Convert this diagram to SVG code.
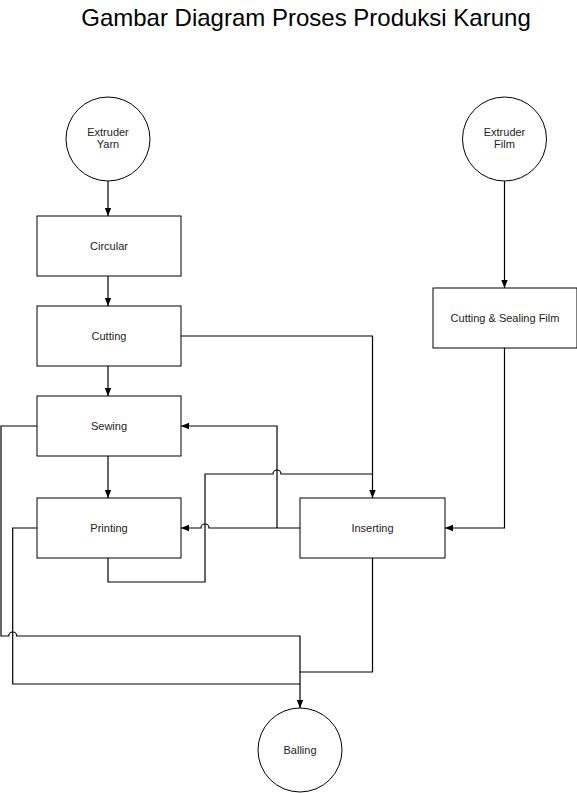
<svg xmlns="http://www.w3.org/2000/svg" width="577" height="793" viewBox="0 0 577 793">
<defs>
<marker id="ah" viewBox="0 0 10 10" refX="10" refY="5" markerWidth="8" markerHeight="8" markerUnits="userSpaceOnUse" orient="auto">
<path d="M0,1 L10,5 L0,9 z" fill="#000"/>
</marker>
<style>
.n{fill:#fff;stroke:#000;stroke-width:1}
.t{font-family:"Liberation Sans",Arial,sans-serif;font-size:11px;fill:#222;text-anchor:middle}
.c{fill:none;stroke:#000;stroke-width:1.2}
.a{marker-end:url(#ah)}
.title{font-family:"Liberation Sans",Arial,sans-serif;font-size:24px;fill:#000;text-anchor:middle}
</style>
</defs>
<rect width="577" height="793" fill="#fff"/>
<text class="title" x="306" y="26">Gambar Diagram Proses Produksi Karung</text>
<g id="connectors">
<path class="c a" d="M108 181 V216"/>
<path class="c a" d="M108 276 V306"/>
<path class="c a" d="M108 366 V396"/>
<path class="c a" d="M108 456 V498"/>
<path class="c a" d="M504.5 181 V288"/>
<path class="c a" d="M504.5 348 V528 H445"/>
<path class="c a" d="M181 336 H372.5 V498"/>
<path class="c a" d="M300 528 H209 A4 4 0 0 0 201 528 H181"/>
<path class="c a" d="M277 528 V426 H181"/>
<path class="c" d="M108 558 V582 H205 V474 H273 A4 4 0 0 1 281 474 H372.5"/>
<path class="c a" d="M37 426 H1 V636 H8.7 A4 4 0 0 1 16.7 636 H300 V708"/>
<path class="c" d="M37 528 H12.7 V684 H300"/>
<path class="c" d="M372.5 558 V672 H300"/>
</g>
<g id="extruder-yarn">
<circle class="n" cx="108" cy="139" r="42"/>
<text class="t" x="108" y="135.5">Extruder</text>
<text class="t" x="108" y="147.5">Yarn</text>
</g>
<g id="extruder-film">
<circle class="n" cx="504.5" cy="139" r="42"/>
<text class="t" x="504.5" y="135.5">Extruder</text>
<text class="t" x="504.5" y="147.5">Film</text>
</g>
<g id="circular">
<rect class="n" x="37" y="216" width="144" height="60"/>
<text class="t" x="109" y="250">Circular</text>
</g>
<g id="cutting">
<rect class="n" x="37" y="306" width="144" height="60"/>
<text class="t" x="109" y="340">Cutting</text>
</g>
<g id="sewing">
<rect class="n" x="37" y="396" width="144" height="60"/>
<text class="t" x="109" y="430">Sewing</text>
</g>
<g id="printing">
<rect class="n" x="37" y="498" width="144" height="60"/>
<text class="t" x="109" y="532">Printing</text>
</g>
<g id="inserting">
<rect class="n" x="300" y="498" width="145" height="60"/>
<text class="t" x="372.5" y="532">Inserting</text>
</g>
<g id="cutting-sealing-film">
<rect class="n" x="433" y="288" width="144" height="60"/>
<text class="t" x="505" y="322">Cutting &amp; Sealing Film</text>
</g>
<g id="balling">
<circle class="n" cx="300" cy="750" r="42"/>
<text class="t" x="300" y="754">Balling</text>
</g>
</svg>
